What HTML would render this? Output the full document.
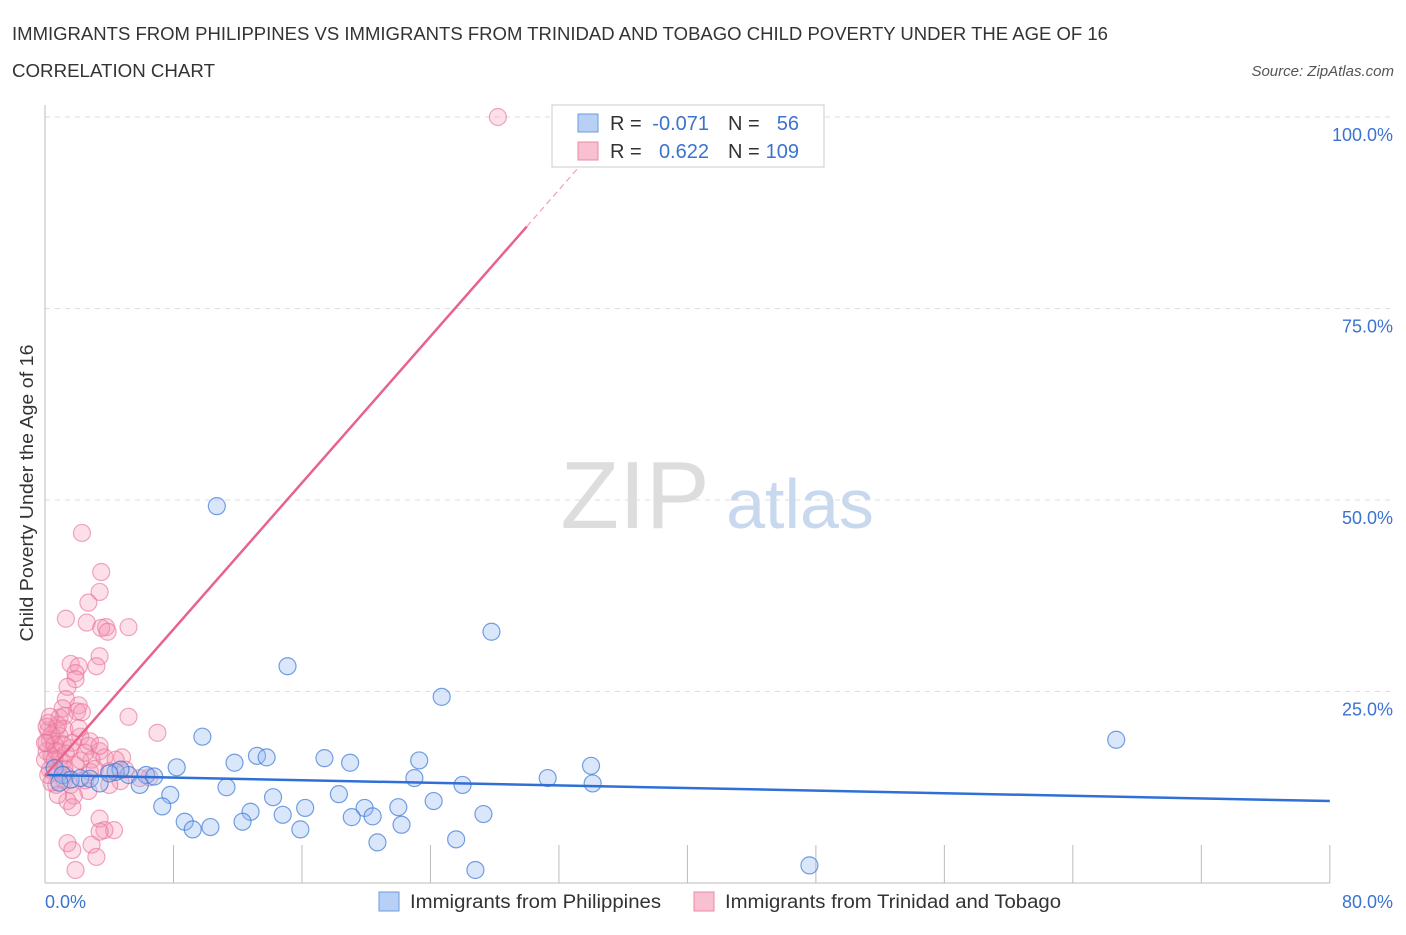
<!DOCTYPE html>
<html><head><meta charset="utf-8"><style>
body{margin:0;background:#fff;font-family:"Liberation Sans",sans-serif}
svg text{font-family:"Liberation Sans",sans-serif}
</style></head><body>
<svg id="chart" width="1406" height="930" viewBox="0 0 1406 930">
<text x="12" y="40" font-size="18" fill="#333" textLength="1096" lengthAdjust="spacingAndGlyphs">IMMIGRANTS FROM PHILIPPINES VS IMMIGRANTS FROM TRINIDAD AND TOBAGO CHILD POVERTY UNDER THE AGE OF 16</text>
<text x="12" y="77" font-size="18" fill="#333" textLength="203" lengthAdjust="spacingAndGlyphs">CORRELATION CHART</text>
<text x="1394" y="76" font-size="15" fill="#555" font-style="italic" text-anchor="end">Source: ZipAtlas.com</text>
<g><text x="635" y="528" font-size="96" fill="#ddd" text-anchor="middle" font-family="Liberation Serif">ZIP</text><text x="800" y="528" font-size="70" fill="#c8d8ee" text-anchor="middle">atlas</text></g>
<g id="grid"></g>
<line x1="45" y1="105" x2="45" y2="883" stroke="#bbb"/>
<line x1="45" y1="883" x2="1330" y2="883" stroke="#bbb"/>
<text x="33" y="493" font-size="18" fill="#333" text-anchor="middle" textLength="297" lengthAdjust="spacingAndGlyphs" transform="rotate(-90 33 493)">Child Poverty Under the Age of 16</text>
<text x="45" y="908" font-size="18" fill="#3b73d0">0.0%</text>
<text x="1393" y="908" font-size="18" fill="#3b73d0" text-anchor="end">80.0%</text>
<g id="pts"></g>
<g id="lines"></g>
<g>
<rect x="552" y="105" width="272" height="62" fill="#fff" stroke="#ccc"/>
<rect x="578" y="114" width="20" height="18" fill="#b8d0f5" stroke="#6e9be0"/>
<rect x="578" y="142" width="20" height="18" fill="#f8c0d0" stroke="#e98aa6"/>
<text x="610" y="130" font-size="20" fill="#333">R =</text>
<text x="709" y="130" font-size="20" fill="#3b73d0" text-anchor="end">-0.071</text>
<text x="728" y="130" font-size="20" fill="#333">N =</text>
<text x="799" y="130" font-size="20" fill="#3b73d0" text-anchor="end">56</text>
<text x="610" y="158" font-size="20" fill="#333">R =</text>
<text x="709" y="158" font-size="20" fill="#3b73d0" text-anchor="end">0.622</text>
<text x="728" y="158" font-size="20" fill="#333">N =</text>
<text x="799" y="158" font-size="20" fill="#3b73d0" text-anchor="end">109</text>
</g>
<g>
<rect x="379" y="892" width="20" height="19" fill="#b8d0f5" stroke="#6e9be0"/>
<text x="410" y="908" font-size="19" fill="#333" textLength="251" lengthAdjust="spacingAndGlyphs">Immigrants from Philippines</text>
<rect x="694" y="892" width="20" height="19" fill="#f8c0d0" stroke="#e98aa6"/>
<text x="725" y="908" font-size="19" fill="#333" textLength="336" lengthAdjust="spacingAndGlyphs">Immigrants from Trinidad and Tobago</text>
</g>
</svg>
<script>
const yTicks=[25,50,75,100];
const xTicks=[0,8,16,24,32,40,48,56,64,72,80];
const blueX=[10.7,27.8,15.1,24.7,66.7,9.8,11.8,13.2,13.8,17.4,19.0,23.3,34.0,8.2,31.3,34.1,23.0,26.0,6.3,6.8,5.2,4.4,4.7,5.9,7.8,7.3,11.3,14.2,18.3,24.2,22.0,19.9,16.2,12.8,14.8,8.7,10.3,12.3,19.1,20.4,27.3,22.2,9.2,15.9,20.7,25.6,26.8,47.6,0.6,1.1,1.6,2.2,2.8,3.4,4.0,0.9];
const blueY=[49.2,32.8,28.3,24.3,18.7,19.1,15.7,16.6,16.4,16.3,15.7,16.0,15.3,15.1,13.7,13.0,13.7,12.8,14.1,13.9,14.1,14.5,14.8,12.8,11.5,10.0,12.5,11.2,11.6,10.7,9.9,9.8,9.8,9.3,8.9,8.0,7.3,8.0,8.6,8.7,9.0,7.6,7.0,7.0,5.3,5.7,1.7,2.3,15.0,14.1,13.5,13.7,13.6,13.0,14.3,13.1];
const pinkX=[28.2,2.3,3.5,3.4,2.7,1.3,2.6,3.8,3.5,5.2,3.9,3.4,1.6,3.2,2.1,1.9,1.9,1.4,1.3,2.1,1.1,0.9,2.0,2.3,5.2,1.2,7.0,0.7,2.2,0.2,0.3,0.6,0.1,0.4,0.9,1.6,2.7,3.4,3.7,4.8,2.9,1.1,1.9,0.3,0.8,1.3,2.8,0.7,1.2,1.6,2.5,0.4,2.7,1.8,1.4,1.7,3.4,4.3,3.7,3.4,1.4,1.7,2.9,3.2,1.9,0.0,0.1,0.2,0.6,0.9,1.2,1.7,2.2,2.5,3.1,4.0,4.7,6.5,0.7,1.1,0.8,0.4,0.1,0.3,0.6,2.1,2.8,3.4,4.0,4.4,5.9,5.0,1.2,0.8,0.2,0.0,1.3];
const pinkY=[100,45.7,40.6,38.0,36.6,34.5,34.0,33.4,33.3,33.4,32.8,29.6,28.6,28.3,28.3,27.4,26.6,25.6,24.0,23.2,22.8,21.6,22.4,22.3,21.7,21.8,19.6,20.2,19.1,19.9,18.6,18.0,17.2,16.6,16.3,17.6,17.9,17.2,16.4,16.4,16.1,15.8,15.4,14.8,14.4,14.1,14.5,12.8,13.4,12.8,13.4,13.1,12.0,11.4,10.7,9.9,8.4,6.9,6.9,6.7,5.2,4.3,5.0,3.4,1.7,16.1,18.3,20.9,18.1,19.2,20.1,18.3,16.0,17.0,14.9,14.6,13.3,13.8,17.2,18.1,20.6,19.3,20.4,21.7,16.1,20.2,18.5,17.9,12.8,16.1,13.7,14.8,14.9,11.5,14.1,18.3,16.9];
const X=v=>45+v*16.06, Y=v=>883-v*7.66;
const NS='http://www.w3.org/2000/svg';
function mk(t,a,p){const e=document.createElementNS(NS,t);for(const k in a)e.setAttribute(k,a[k]);p.appendChild(e);return e;}
const grid=document.getElementById('grid');
yTicks.forEach(t=>{
 const l=mk('line',{x1:45,x2:1393,y1:Y(t),y2:Y(t),stroke:'#ddd','stroke-dasharray':'5,5'},grid);
 
 
 const tx=mk('text',{x:1393,y:Y(t)+24,'font-size':18,fill:'#3b73d0','text-anchor':'end'},grid);
 tx.textContent=t.toFixed(1)+'%';
 
 
});
xTicks.forEach(t=>{
 const l=mk('line',{x1:X(t),x2:X(t),y1:845,y2:883,stroke:'#bbb'},grid);
 
 
});
const pts=document.getElementById('pts');
pinkX.forEach((x,i)=>{
 const c=mk('circle',{cx:X(x),cy:Y(pinkY[i]),r:8.5,fill:'rgba(244,150,180,0.3)',stroke:'rgba(232,110,150,0.6)','stroke-width':1.2},pts);
 
 
});
blueX.forEach((x,i)=>{
 const c=mk('circle',{cx:X(x),cy:Y(blueY[i]),r:8.5,fill:'rgba(150,185,240,0.35)',stroke:'rgba(60,120,215,0.7)','stroke-width':1.2},pts);
 
 
});
const lines=document.getElementById('lines');
let l=mk('line',{x1:X(0),y1:Y(14.1),x2:X(80),y2:Y(10.7),stroke:'#2f6fd6','stroke-width':2.5},lines);


l=mk('line',{x1:X(0),y1:Y(14),x2:X(30),y2:Y(85.7),stroke:'#e8638c','stroke-width':2.5},lines);


l=mk('line',{x1:X(30),y1:Y(85.7),x2:X(33.3),y2:Y(93.6),stroke:'#f0a0b8','stroke-width':1.2,'stroke-dasharray':'6,4'},lines);


</script>
</body></html>
